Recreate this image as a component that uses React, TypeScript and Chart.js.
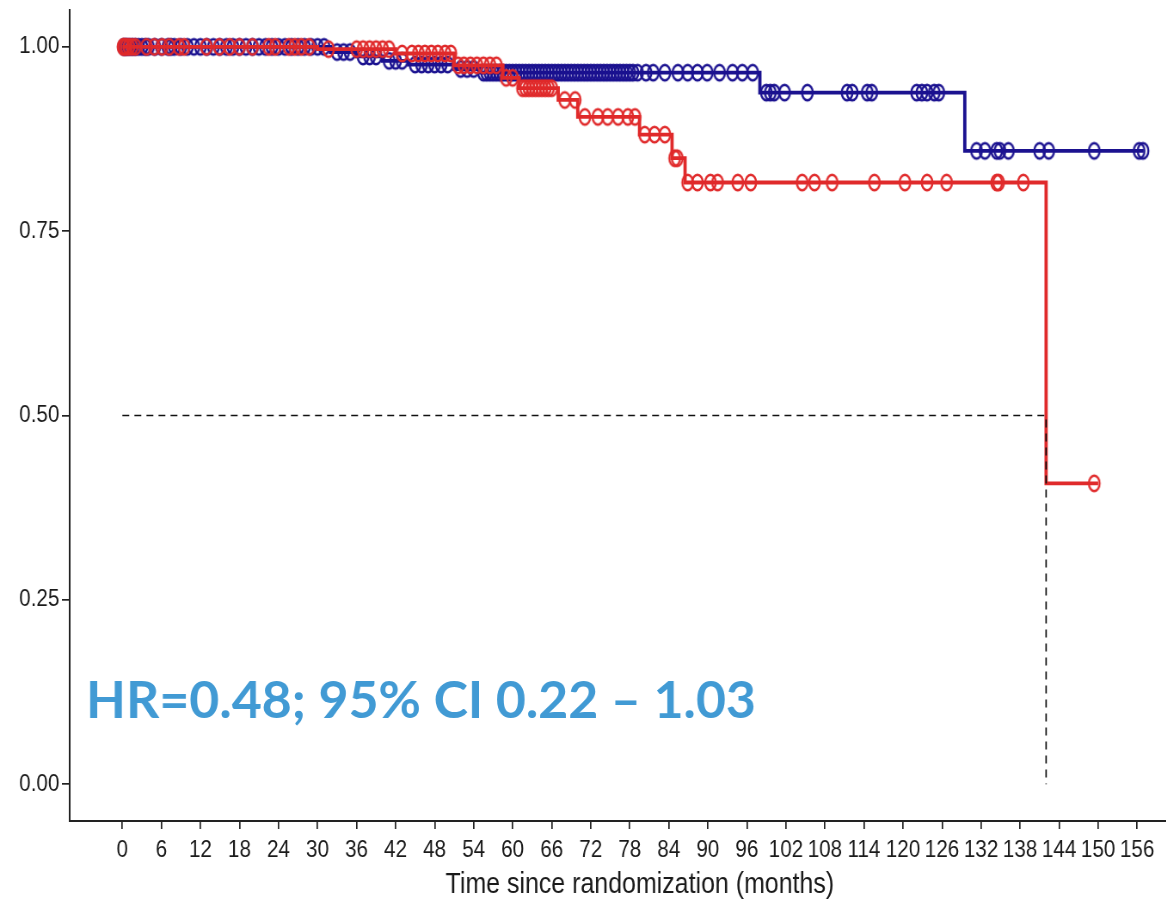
import React, { useEffect, useRef } from "react";
import { Chart, registerables } from "chart.js";

Chart.register(...registerables);

// ---- Data ----
const xTickValues = [0, 6, 12, 18, 24, 30, 36, 42, 48, 54, 60, 66, 72, 78, 84, 90, 96, 102, 108, 114, 120, 126, 132, 138, 144, 150, 156];
const yTickValues = [0, 0.25, 0.5, 0.75, 1.0];

// Kaplan-Meier step points (time in months, survival)
const blueTimes = [0, 32, 36, 40, 44, 51, 55, 98, 129.5, 157];
const blueSurv = [1.0, 0.993, 0.987, 0.981, 0.976, 0.97, 0.965, 0.938, 0.859, 0.859];

const redTimes = [0, 30, 42, 51, 58.5, 61, 67, 70, 79.5, 84.5, 86.5, 142, 150];
const redSurv = [1.0, 0.997, 0.991, 0.975, 0.958, 0.944, 0.928, 0.905, 0.881, 0.849, 0.816, 0.408, 0.408];

// Censoring times
const blueCensor = [
  0.2, 0.5, 0.8, 1.2, 1.6, 2, 2.5, 3, 3.5, 4, 5, 6, 7, 7.5, 8, 9, 10, 11, 12, 13, 14, 15, 16, 17, 18, 19, 20,
  21, 22, 23, 24, 25, 26, 27, 28, 29, 30, 31, 33, 34, 35, 37, 38, 39, 41, 42, 43, 45, 46, 47, 48, 49, 50,
  52, 53, 54, 55.5, 56, 56.5, 57, 57.5, 58, 58.5, 59, 59.5, 60, 60.5, 61, 61.5, 62, 62.5, 63, 63.5, 64, 64.5,
  65, 65.5, 66, 66.5, 67, 67.5, 68, 68.5, 69, 69.5, 70, 70.5, 71, 71.5, 72, 72.5, 73, 73.5, 74, 74.5, 75,
  75.5, 76, 76.5, 77, 77.5, 78, 78.5,
  79.2, 80.5, 81.6, 83.4, 85.4, 86.9, 88.4, 89.9, 91.8, 93.8, 95.3, 96.9,
  99, 99.6, 100.2, 101.8, 105.3, 111.4, 112.2, 114.5, 115.2, 122.1, 122.9, 123.7, 124.8, 125.5,
  131.3, 132.6, 134.4, 134.9, 136.2, 141, 142.4, 149.4, 156.3, 156.9,
];
const redCensor = [
  0.1, 0.3, 0.6, 1, 1.5, 2, 3.7, 4.9, 6.1, 7.2, 8.7, 9.5, 12.9, 14.9, 16.5, 18, 20, 22.5, 23.5, 25.6, 26.5,
  27.5, 28.7, 31.7, 36, 37, 38, 39, 40, 41, 43, 44.5, 45.5, 46.5, 47.5, 48.5, 49.6, 50.5, 51.6, 52.5, 53.5,
  54.5, 55.5, 56.5, 57.5, 59, 60, 61.5, 62, 62.5, 63, 63.5, 64, 64.5, 65, 65.5, 66, 68, 69.6,
  71.1, 73.1, 74.6, 76.2, 77.7, 78.8, 80.3, 81.8, 83.4, 84.9, 85.3, 86.9, 88.4, 90.4, 91.5, 94.6, 96.6,
  104.5, 106.4, 109.1, 115.6, 120.3, 123.7, 126.7, 134.4, 134.7, 138.5, 149.4,
];

const medianTime = 142;
const hrText = "HR=0.48; 95% CI 0.22 – 1.03";

const BLUE = "#1B1290";
const RED = "#E02A2B";
const FONT = "'Liberation Sans', Arial, Helvetica, sans-serif";

// horizontal squeeze of the whole figure; the panel runs past the right edge (cropped)
const SQ = 0.86;
const W = 1412;
const H = 899;

function survAt(times: number[], surv: number[], t: number) {
  let v = surv[0];
  for (let i = 0; i < times.length; i++) {
    if (times[i] <= t) v = surv[i];
  }
  return v;
}

function makeMarker(color: string) {
  const c = document.createElement("canvas");
  c.width = 18;
  c.height = 21;
  const ctx = c.getContext("2d")!;
  ctx.strokeStyle = color;
  ctx.lineWidth = 2.4;
  ctx.beginPath();
  ctx.ellipse(9, 10.5, 6.2, 7.8, 0, 0, Math.PI * 2);
  ctx.stroke();
  return c;
}

export default function App() {
  const ref = useRef<HTMLCanvasElement | null>(null);

  useEffect(() => {
    if (!ref.current) return;
    const blueMarker = makeMarker(BLUE);
    const redMarker = makeMarker(RED);

    const hrPlugin = {
      id: "hrText",
      afterDraw(chart: any) {
        const ctx = chart.ctx;
        ctx.save();
        ctx.font = "bold 52px Lato, 'Open Sans', sans-serif";
        ctx.fillStyle = "#419AD4";
        ctx.textBaseline = "alphabetic";
        const w = ctx.measureText(hrText).width;
        const target = 670 / SQ;
        ctx.translate(86 / SQ, 718);
        ctx.scale(target / w, 1);
        ctx.fillText(hrText, 0, 0);
        ctx.restore();
      },
    };

    const chart = new Chart(ref.current, {
      type: "scatter",
      data: {
        datasets: [
          {
            data: [
              { x: 0, y: 0.5 },
              { x: medianTime, y: 0.5 },
              { x: medianTime, y: 0 },
            ],
            showLine: true,
            borderColor: "#111",
            borderWidth: 1.7,
            borderDash: [8, 6],
            pointRadius: 0,
            order: 0,
          } as any,
          {
            data: redCensor.map((t) => ({ x: t, y: survAt(redTimes, redSurv, t) })),
            pointStyle: redMarker,
            order: 1,
          } as any,
          {
            data: redTimes.map((t, i) => ({ x: t, y: redSurv[i] })),
            showLine: true,
            stepped: "before",
            borderColor: RED,
            borderWidth: 3.8,
            pointRadius: 0,
            order: 2,
          } as any,
          {
            data: blueCensor.map((t) => ({ x: t, y: survAt(blueTimes, blueSurv, t) })),
            pointStyle: blueMarker,
            order: 3,
          } as any,
          {
            data: blueTimes.map((t, i) => ({ x: t, y: blueSurv[i] })),
            showLine: true,
            stepped: "before",
            borderColor: BLUE,
            borderWidth: 3.8,
            pointRadius: 0,
            order: 4,
          } as any,
        ],
      },
      options: {
        animation: false,
        responsive: false,
        devicePixelRatio: 1,
        layout: { padding: { top: 10, right: 0, left: 0, bottom: 0 } },
        plugins: { legend: { display: false }, tooltip: { enabled: false } },
        scales: {
          x: {
            type: "linear",
            min: -8.1,
            max: 167.2,
            border: { display: true, color: "#222", width: 2 },
            grid: { display: true, drawOnChartArea: false, drawTicks: true, tickLength: 8, color: "#222", lineWidth: 1.7 },
            ticks: { font: { family: FONT, size: 24 }, color: "#1a1a1a", padding: 7, maxRotation: 0, autoSkip: false },
            afterBuildTicks: (s: any) => {
              s.ticks = xTickValues.map((v) => ({ value: v }));
            },
            afterFit: (s: any) => {
              s.height = 78;
              s.paddingLeft = 0;
              s.paddingRight = 0;
            },
            title: {
              display: true,
              text: "Time since randomization (months)",
              font: { family: FONT, size: 29, lineHeight: 1.0 },
              color: "#1a1a1a",
              padding: { top: 0, bottom: 0 },
            },
          },
          y: {
            type: "linear",
            min: -0.05,
            max: 1.05,
            border: { display: true, color: "#222", width: 2 },
            grid: { display: true, drawOnChartArea: false, drawTicks: true, tickLength: 9, color: "#222", lineWidth: 1.7 },
            ticks: {
              font: { family: FONT, size: 24 },
              color: "#1a1a1a",
              padding: 3,
              callback: (v: any) => Number(v).toFixed(2),
            },
            afterBuildTicks: (s: any) => {
              s.ticks = yTickValues.map((v) => ({ value: v }));
            },
            afterFit: (s: any) => {
              s.width = 81;
              s.paddingTop = 0;
              s.paddingBottom = 0;
            },
          },
        },
      } as any,
      plugins: [hrPlugin],
    });
    return () => chart.destroy();
  }, []);

  return (
    <div style={{ position: "fixed", left: 0, top: 0, width: 1166, height: H, overflow: "hidden", background: "#fff" }}>
      <div style={{ width: W, height: H, transform: `scaleX(${SQ})`, transformOrigin: "0 0" }}>
        <canvas ref={ref} width={W} height={H} style={{ width: W, height: H, display: "block" }} />
      </div>
    </div>
  );
}
